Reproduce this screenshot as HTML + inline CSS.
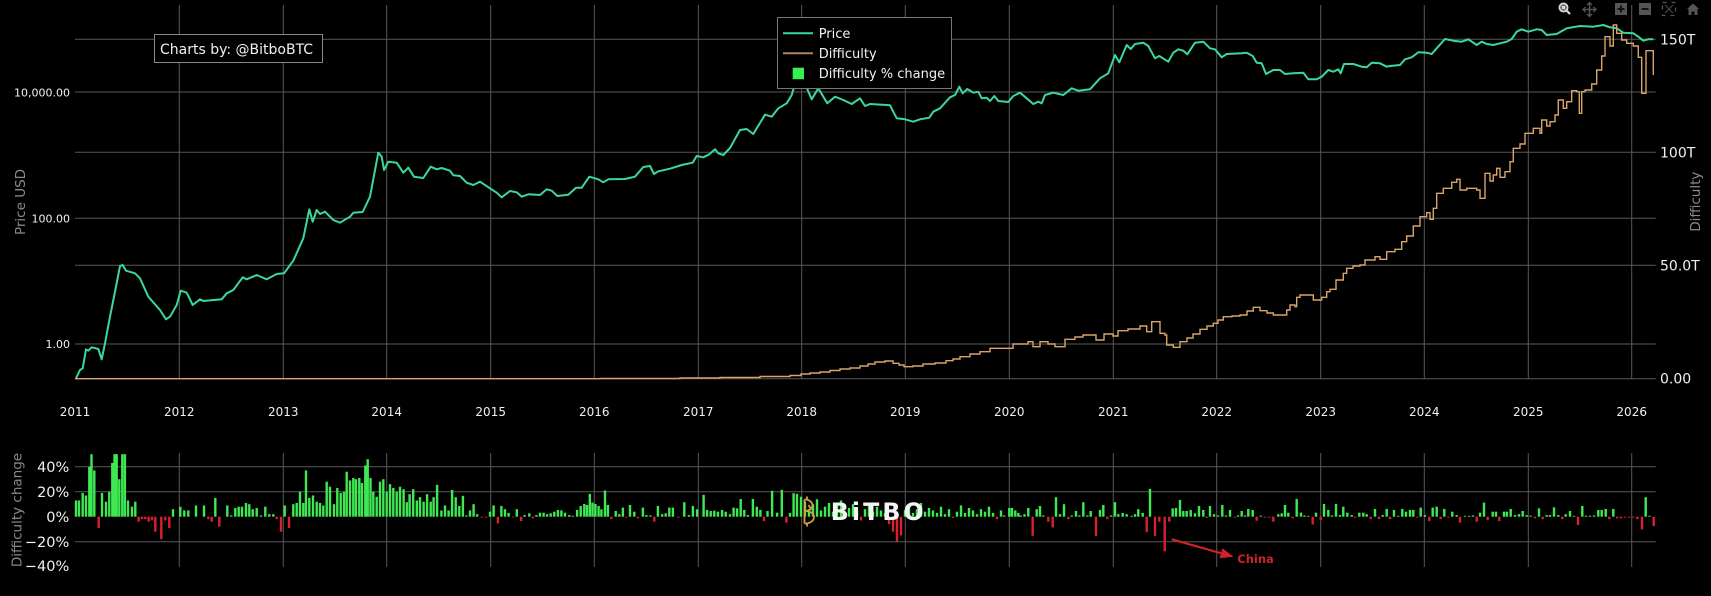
<!DOCTYPE html>
<html><head><meta charset="utf-8"><style>
html,body{margin:0;padding:0;background:#000;}
svg{display:block;}
text{font-family:"DejaVu Sans","Liberation Sans",sans-serif;}
</style></head><body>
<svg id="s" width="1711" height="596" viewBox="0 0 1711 596" xmlns="http://www.w3.org/2000/svg">
<rect width="1711" height="596" fill="#000"/>
<g stroke="#585858" stroke-width="1">
<path d="M179.3 5V379M283.3 5V379M386.7 5V379M490.7 5V379M594.3 5V379M698.3 5V379M801.7 5V379M905.3 5V379M1009.3 5V379M1113.3 5V379M1216.7 5V379M1320.7 5V379M1424.3 5V379M1528.3 5V379M1631.7 5V379"/>
<path d="M75 39.3H1655.7M75 92H1655.7M75 152.3H1655.7M75 218.3H1655.7M75 265.3H1655.7M75 344H1655.7M75 378.7H1655.7"/>
<path d="M179.3 453V567M283.3 453V567M386.7 453V567M490.7 453V567M594.3 453V567M698.3 453V567M801.7 453V567M905.3 453V567M1009.3 453V567M1113.3 453V567M1216.7 453V567M1320.7 453V567M1424.3 453V567M1528.3 453V567M1631.7 453V567"/>
<path d="M75 466.7H1655.7M75 491.7H1655.7M75 541.7H1655.7"/>
</g>
<g id="bars"></g>
<!-- Price -->
<path fill="none" stroke="#3ad999" stroke-width="2" stroke-linejoin="round" d="M76 378.3L80 370L82.7 368.3L86 349.3L88.3 350.7L91.7 347.3L98.3 349L101.7 359.3L105 343.3L110 316.7L115 291.7L120 266L122.7 265L126 270.7L135 273.3L140 278.3L148.3 296.7L160 310L166 319.3L170 316.7L176.7 305L180.7 290.7L186.7 292.7L192.7 305L200 299.3L203.3 301L221.7 299.3L226.7 293.3L233.3 290L242.7 277.3L246.7 279.3L256.7 275L266.7 279.3L276.7 274L284 273.3L293.3 260.7L303.3 238.3L309.3 209.3L312.7 221.7L316.7 210L320 214L325 211.7L333.3 220L340 222.7L350 216.7L353.3 212.7L362.7 212L370 196.7L378.3 152.7L381.7 156.7L384 170L388.3 161.7L396.7 162.7L403.3 172.7L408.3 167.7L414 176.7L423.3 178L430.7 166.7L436.7 169.3L441.7 168L450 170.7L453.3 175.3L460 176L466.7 182.7L473.3 185L480 181.7L490 188.3L496.7 192.7L501.7 197.3L510 191L516.7 192.3L521.7 196.7L528.3 194.3L540 195L546.7 189.3L551.7 190.7L557.3 196L568.3 194.7L576 187.7L581.7 187.7L589.3 176.7L598.3 179.3L603.3 182.3L608.3 179.3L625 179L635 176.7L643.3 167L650 166L654 174L658.3 171.3L670 168.7L681.7 165L692.7 162.7L696.7 156L703.3 157.3L709.3 154.3L715 149.3L718.3 153.3L723.3 155L730 148L740 130L746.7 129L753.3 134L765 114.7L771.7 116.7L778.3 108.3L786.7 103.3L791.7 95L796 80L799 70L803.3 80L811.7 99.3L818.3 88.3L827.3 103.3L835 96.7L843.3 100L851.7 104L860 98.3L865 106L870 104L886.7 105L890 105.3L896.7 118.3L905 119.3L913.3 121.7L920 119.3L929.3 117.7L933.3 111.7L940 108.3L950 97.3L955 95L959.3 86.7L962.7 93.3L967.3 89L973.3 92.7L978.3 91.7L981.7 98.3L986.7 97.7L990 101L994.3 96L998.3 101L1008.3 102L1013.3 96L1020 92.7L1026.7 98.3L1033.3 104L1038.3 101.7L1041.7 103.3L1045 95L1053.3 92.7L1063.3 95L1071.7 88.3L1078.3 90.7L1090 89.3L1100 78.3L1108.3 73.3L1115 55L1119.3 62.3L1126.7 45L1130.7 49L1135 44L1143.3 42.7L1148.3 46L1155 58.3L1159.3 56L1168.3 61.7L1173.3 52.7L1178.3 49.3L1183.3 50.7L1187.3 54.3L1195 42.7L1203.3 41.7L1210 48.3L1215 49.3L1221.7 57.3L1226.7 54L1241.7 53.3L1246.7 52.7L1252.7 56L1256.7 62.7L1261.7 63.3L1266 74L1273.3 70L1280 70L1285 74L1293.3 73.3L1303.3 72.7L1308.3 79.3L1316.7 79.3L1321.7 76.7L1328.3 70L1333.3 71.7L1338.3 69.3L1340.7 73.3L1344 64L1353.3 64L1361.7 66.7L1366.7 67.3L1371.7 62.7L1380 63.3L1386.7 66.7L1390 66L1400 65L1405 59.3L1411.7 57.3L1418.3 52.3L1426.7 52.7L1431.7 54L1436.7 48.3L1445 39L1453.3 40.7L1461.7 41.7L1468.3 39.3L1476.7 45L1481.7 41.7L1486.7 44L1493.3 45L1500 43.3L1506.7 41.7L1511.7 39L1516.7 31.7L1521.7 29.3L1528.3 31.7L1536.7 29.3L1541.7 30L1546.7 35L1556.7 34L1566.7 28.3L1580 26L1593.3 26.7L1603.3 25L1610 27.3L1616.7 28.3L1623.3 32.7L1633.3 33.3L1638.3 36.7L1643.3 40.7L1648.3 39.3L1653.3 39.3"/>
<!-- Difficulty -->
<path id="diff" fill="none" stroke="#d8a46a" stroke-width="1.4" d=""/>
<!-- Legend -->
<rect x="777.5" y="17.5" width="174" height="71" fill="#000" stroke="#777" stroke-width="1"/>
<line x1="783" y1="33.3" x2="813" y2="33.3" stroke="#3ad999" stroke-width="2"/>
<line x1="783" y1="53.3" x2="813" y2="53.3" stroke="#a8845c" stroke-width="2"/>
<rect x="792.7" y="67.7" width="11.3" height="11.5" fill="#33f055"/>
<g fill="#f2f2f2" font-size="13">
<text x="818.7" y="38">Price</text>
<text x="818.7" y="58">Difficulty</text>
<text x="818.7" y="78">Difficulty % change</text>
</g>
<!-- Charts by box -->
<rect x="154.5" y="34.5" width="168" height="28" fill="#000" stroke="#888" stroke-width="1"/>
<text x="160" y="54" font-size="14" fill="#f0f0f0">Charts by: @BitboBTC</text>
<!-- Left ticks -->
<g fill="#f0f0f0" font-size="11" text-anchor="end">
<text x="70" y="96.7">10,000.00</text>
<text x="70" y="222.3">100.00</text>
<text x="70" y="348">1.00</text>
</g>
<!-- Right ticks -->
<g fill="#f0f0f0" font-size="14">
<text x="1660" y="44.3">150T</text>
<text x="1660" y="157.3">100T</text>
<text x="1660" y="270.3">50.0T</text>
<text x="1660" y="383.3">0.00</text>
</g>
<!-- Year labels -->
<g fill="#f0f0f0" font-size="12" text-anchor="middle">
<text x="75" y="416">2011</text><text x="179.3" y="416">2012</text><text x="283.3" y="416">2013</text><text x="386.7" y="416">2014</text><text x="490.7" y="416">2015</text><text x="594.3" y="416">2016</text><text x="698.3" y="416">2017</text><text x="801.7" y="416">2018</text><text x="905.3" y="416">2019</text><text x="1009.3" y="416">2020</text><text x="1113.3" y="416">2021</text><text x="1216.7" y="416">2022</text><text x="1320.7" y="416">2023</text><text x="1424.3" y="416">2024</text><text x="1528.3" y="416">2025</text><text x="1631.7" y="416">2026</text>
</g>
<!-- Bottom ticks -->
<g fill="#f0f0f0" font-size="14.5" text-anchor="end">
<text x="69.3" y="472">40%</text>
<text x="69.3" y="497">20%</text>
<text x="69.3" y="522">0%</text>
<text x="69.3" y="547">−20%</text>
<text x="69.3" y="571">−40%</text>
</g>
<!-- Axis titles -->
<g fill="#8a8a8a" font-size="13.5" text-anchor="middle">
<text transform="translate(25,202) rotate(-90)">Price USD</text>
<text transform="translate(1700,201.7) rotate(-90)">Difficulty</text>
<text transform="translate(21.5,510) rotate(-90)">Difficulty change</text>
</g>
<!-- BITBO logo -->
<path d="M804.5 499.5V523.5M804.5 499.5C815 499.5 815 511 805 511C817 511 817 523.5 804.5 523.5M807 496.5V499.5M807 523.5V526.5M808.5 505L811 509" fill="none" stroke="#d4a040" stroke-width="1.8"/>
<text x="830.7" y="520" font-size="23.7" font-weight="bold" fill="#f4f4f4" textLength="93" lengthAdjust="spacing">BiTBO</text>
<!-- China annotation -->
<line x1="1171.7" y1="539.3" x2="1222" y2="553.5" stroke="#d0202a" stroke-width="2.2"/>
<polygon points="1233.5,556.7 1219.5,558.3 1222.5,548.3" fill="#d0202a"/>
<text x="1237.3" y="562.8" font-size="11.5" font-weight="bold" fill="#d0202a">China</text>
<!-- Toolbar -->
<g>
<circle cx="1563.5" cy="7.5" r="4" fill="none" stroke="#d8d8d8" stroke-width="2"/>
<rect x="1561.5" y="5.5" width="4" height="4" fill="#d8d8d8"/>
<line x1="1566.5" y1="10.5" x2="1570" y2="14" stroke="#d8d8d8" stroke-width="2.2"/>
<path d="M1589.5 3V16M1583 9.5H1596" stroke="#555" stroke-width="1.6"/>
<path d="M1587 5L1589.5 2.5L1592 5M1587 14L1589.5 16.5L1592 14M1585.5 7L1583 9.5L1585.5 12M1593.5 7L1596 9.5L1593.5 12" fill="none" stroke="#555" stroke-width="1.3"/>
<rect x="1615" y="3" width="12" height="12" fill="#555"/>
<path d="M1621 5.5V12.5M1617.5 9H1624.5" stroke="#111" stroke-width="2"/>
<rect x="1639" y="3" width="12" height="12" fill="#555"/>
<path d="M1641.5 9H1648.5" stroke="#111" stroke-width="2"/>
<rect x="1662.5" y="2.5" width="13" height="13" fill="none" stroke="#555" stroke-width="1.3" stroke-dasharray="4 5"/>
<path d="M1665 5L1673 13M1673 5L1665 13" stroke="#444" stroke-width="1.2"/>
<path d="M1687 9L1693 3.5L1699 9H1697.5V15H1694.5V11.5H1691.5V15H1688.5V9Z" fill="#555"/>
</g>
</svg>
<script>
(function(){
var NS="http://www.w3.org/2000/svg";
// Difficulty step line
var dp=[[75,378.7],[600,378.5],[680,378],[720,377.5],[760,376.5],[790,375.5],[801,374],[810,373],[820,372],[830,370.5],[840,369],[850,368],[860,366],[868,364],[875,362],[885,361],[893,363.3],[899,365],[904,366.7],[913,366],[923,364],[935,363],[946,360.7],[953,359],[960,356.7],[970,354],[980,351.7],[990,348.3],[1013,344],[1028,341.7],[1033,346.7],[1040,341.7],[1048,344],[1055,346.7],[1065,339.3],[1075,337],[1083,335],[1096,340],[1104,334],[1113,336],[1118,330.7],[1128,329],[1140,326],[1146.7,331.7],[1151.7,321.7],[1160,333.3],[1165,335],[1166.7,345],[1173.3,347.3],[1180,341.7],[1187,338],[1193,334],[1200,329.3],[1207,326],[1213.3,323.3],[1218,320],[1223.3,316.7],[1232,316],[1240,315],[1247,311],[1253.3,307.3],[1260,310.7],[1267,313],[1273.3,315],[1286.7,310],[1290,305],[1295,306.7],[1296.7,297.3],[1300,295],[1313.3,300],[1321.7,297.3],[1326.7,291.7],[1330,289.3],[1336,280],[1343.3,273.3],[1346.7,268.3],[1353,266],[1360,265],[1365,260],[1375,256.7],[1380,259.3],[1386.7,251.7],[1395,249.3],[1401.7,241.7],[1406.7,236],[1413.3,226],[1420,216.7],[1426.7,212.7],[1430,219.3],[1433.3,208.3],[1436.7,193.3],[1443.3,188.3],[1451.7,182.3],[1456.7,179.3],[1460,190],[1466.7,188.3],[1476.7,190],[1480,198.3],[1485,173.3],[1490,181],[1493.3,175],[1496.7,168.3],[1500,177.3],[1505,171.7],[1510,161.7],[1513.3,148.3],[1520,144],[1525,133.3],[1533.3,128.3],[1540,133.3],[1541.7,120],[1546.7,126],[1550,121.7],[1555,115],[1558.3,100],[1563.3,108.3],[1566.7,101.7],[1571.7,90.7],[1576.7,91.7],[1579.3,113.3],[1581.7,91.7],[1585,90],[1591.7,84],[1596.7,70],[1601.7,56],[1605,36.7],[1610,46],[1613.3,25],[1616.7,33.3],[1621.7,40],[1626.7,43.3],[1633.3,46],[1638.3,57.3],[1641.7,93.3],[1646,50.7],[1653.3,75]];
var d="M"+dp[0][0]+" "+dp[0][1];
for(var i=1;i<dp.length;i++){d+="H"+dp[i][0]+"V"+dp[i][1];}
document.getElementById("diff").setAttribute("d",d);
// Bars
var B=[[76,13],[79,13],[82.7,19],[86,17],[89.3,40],[91.5,50],[94.3,37],[98.7,-9],[102,19],[106,12],[109.3,20],[112.3,43],[114.5,50],[116.7,50],[119.3,30],[122.3,50],[124.9,50],[128,13],[132,8],[135.3,12],[138.7,-4],[142,-2],[145.3,-2],[148.7,-4],[152,-3],[155.3,-12],[161.3,-18],[165.3,-3],[169.3,-9],[173,6],[180.3,8],[184.3,5],[188.3,5],[196,9],[204,9],[208.3,-2],[211.7,-4],[215.3,15],[219.3,-8],[227.3,9],[231.3,1],[235.3,7],[238.7,8],[242,8],[246,11],[249.3,10],[252.7,6],[256.7,7],[261,1],[265.3,8],[269.3,2],[273.3,2],[276.7,-2],[281,-12],[284.7,9],[289,-9],[293.3,10],[296.7,11],[300,20],[303.3,11],[306,37],[309.3,15],[313,17],[316.7,12],[320,11],[323.3,9],[326.7,28],[330,24],[334,10],[337.3,23],[340.7,19],[344,20],[346.7,36],[350,29],[353.3,31],[356,30],[359.3,31],[362,27],[365.3,41],[367.7,46],[370.5,31],[373.3,20],[376.7,16],[380,28],[383.3,30],[386.7,20],[390,26],[393.3,23],[396.7,20],
[400,24],[403.6,22],[406.8,11.6],[409.6,18],[413.2,22],[416.8,13],[420,15.6],[423.6,12],[427.1,18],[430.7,12],[433.6,15.6],[437.1,25.5],[441.4,5],[445,9],[448.6,5],[452.1,21.5],[455.7,15.6],[459.3,8.6],[462.9,16.7],[466.4,1],[470,5],[473.6,10],[477.1,2],[481.8,-0.5],[486.4,-0.5],[490,4],[493.6,9],[497.9,-5.4],[501.4,8.6],[505,6],[508.6,3],[513.2,-0.5],[516.8,6],[521.1,-3.5],[524.6,1.3],[529.3,2.7],[532.9,-1.3],[536.4,1.3],[540,3.2],[543.6,3.2],[547.1,2],[550.7,2.7],[554.3,4],[557.9,5.4],[561.4,5],[565,3.2],[569.3,1.3],[572.9,0.5],[577.1,5.4],[580.7,8.6],[584.3,10.2],[587,9.4],[589.8,18.3],[592.5,11.3],[595.4,10.2],[598.6,8.6],[601.4,5.9],[605,21],[607.9,9.4],[611.4,-1.9],[615.7,4.6],[619.3,2],[622.9,7.3],[626.4,-0.5],[630,9.4],[634.3,4],[637.9,-1.3],[642.9,7.3],[646.4,1.3],[650.4,1],[654.3,-4],[657.9,8.6],[662.1,2],[665.7,2.7],[669.3,7.3],[672.9,7.3],[678.2,-0.5],[684.3,11.6],[688.9,1.3],[692.9,8.6],[697.1,5.9],[703.6,17.5],[707.1,5.4],[710.7,4.6],[714.3,4.8],[717.9,4],[722.1,5.4],[725.7,4],[730,2],[733.6,7.3],[737.1,6.7],[740.7,14.2],[744.3,5.4],[747.9,1.3],[752.9,14.2],[756.8,8],[760.4,5.4],[764,-3.5],[767.5,4.6],[772.1,20.7],[777.1,3.2],[781.8,21.5],[786.4,-4.8],[790,3],[793.6,18.8],[797,18.3],
[801,16],[805,12],[809,6],[813,10],[817,14],[821,5],[825,8],[829,11],[833,4],[837,9],[841,13],[845,3],[849,7],[853,10],[857,5],[861,-3],[865,6],[869,9],[873,4],[877,8],[881,5],[885,3],[889,-6],[893,-12],[897,-20],[901,-15],[905,5],[909,9],[913,3],[917,6],[921,11],[925,4],[929,7],[933,5],[937,3],[941,8],[945,2],[949,6],[953,-1],[957,4],[961,9],[965,3],[969,7],[973,5],[977,2],[981,6],[985,4],[989,8],[993,3],[997,-2],[1001,5],
[1004,1],[1009.3,7],[1012,7],[1015.3,5],[1018.3,3],[1020.7,1],[1024.5,2],[1028.3,7],[1032.7,-15.3],[1036.7,6],[1040,8.6],[1043.3,1],[1048.3,-4],[1052.7,-8.6],[1056,15.6],[1060,2],[1064,10],[1068.3,-2],[1071.7,1],[1076,4.6],[1079.3,1],[1083.3,11.6],[1087.3,1],[1090.7,4.6],[1096,-15.3],[1100,5.4],[1103.3,9.4],[1107.3,-2],[1111,1],[1115,11.6],[1118.3,2],[1122.7,3],[1126.7,2],[1131.7,0],[1135,2],[1138.3,6],[1142.7,3],[1146.7,-12.4],[1150,22.3],[1155,-15.3],[1159.3,-4],[1164.7,-27.7],[1169.3,-4],[1172.7,6.7],[1176,7],[1180,13.4],[1183.3,4.6],[1186.7,4.6],[1190.7,5.4],[1195,2.7],[1199,8.6],[1203.3,5.4],[1206.7,-1],[1210,8.6],[1214,2],[1218,1],[1222.3,9.4],[1226,1],[1230,5.4],[1235,-0.5],[1238,1],[1241.7,4.6],[1245,1],[1248.3,6.2],[1252.7,5.4],[1256.7,-3.2],[1260.7,0.8],[1265,-0.5],[1269.3,-0.5],[1273.3,-4],[1278.3,2],[1281.7,2.7],[1285,9.4],[1288.3,3.2],[1292.7,-1.3],[1296.7,14.2],[1301,3.2],[1304.5,1],[1308.3,0.5],[1312.7,-6.2],[1316,3.2],[1320.7,-2.7],[1324,10.2],[1328.3,5.4],[1332,1],[1336,10.2],[1340,1.3],[1343.3,8],[1347.3,3.2],[1351.7,1.3],[1355,-0.8],[1359.3,3.2],[1363.3,3.2],[1366.7,2],[1370.7,-1.9],[1375,6.2],[1379,-1.9],[1382.7,1.3],[1386.7,6.2],[1390,-1.9],[1394,5.4],[1398.3,0],[1402.3,6.2],[1406,4],[1410,5.4],[1413.3,5.4],[1417.3,-0.5],[1420.7,7.3],[1425,1.3],[1429.3,-3.5],[1432.7,7.3],[1436.7,8],[1440.7,-1.9],[1444.3,6.2],[1448.3,-0.5],[1452.3,4],[1456.7,1.3],[1460,-4.8],[1465,0.5],[1469.3,0.5],[1473,1],[1476.7,-4],[1480,3.2],[1484,11.3],[1487.7,-2.7],[1492.7,4],[1496,4],[1499.3,-3.5],
[1504,4],[1506.9,4],[1510.7,6.2],[1515,1.3],[1519,2],[1522.7,4.6],[1526.7,1.3],[1530.7,0.8],[1535,-1.3],[1539,6.7],[1542.7,-2],[1546.7,1.3],[1550,1.3],[1554,7.5],[1558.3,1.3],[1562.3,-2],[1565.7,2],[1570,4.6],[1574,0.5],[1578,-6.7],[1582.3,8.6],[1586,0.8],[1590,0.8],[1594,1],[1598.3,5.4],[1601.7,5.4],[1605.7,6.2],[1609.3,-2],[1613.3,6.2],[1617.3,-1.3],[1621,-1.3],[1625,-0.8],[1629,-0.8],[1633.3,-0.8],[1637.3,-2],[1642,-10.2],[1645.7,15.6],[1649.5,0.5],[1653.7,-7.5]];
var g=document.getElementById("bars"),y0=516.7,k=1.25,html="";
for(var j=0;j<B.length;j++){
 var x=B[j][0],v=Math.max(-50,Math.min(50,B[j][1]));
 var h=Math.abs(v)*k; if(h<0.9)h=0.9;
 var y=v>=0?y0-h:y0;
 var r=document.createElementNS(NS,"rect");
 r.setAttribute("x",(x-1.2).toFixed(2));r.setAttribute("y",y.toFixed(2));
 r.setAttribute("width","2.4");r.setAttribute("height",h.toFixed(2));
 r.setAttribute("fill",v>=0?"#3fe852":"#d8202e");
 g.appendChild(r);
}
})();
</script>
</body></html>
